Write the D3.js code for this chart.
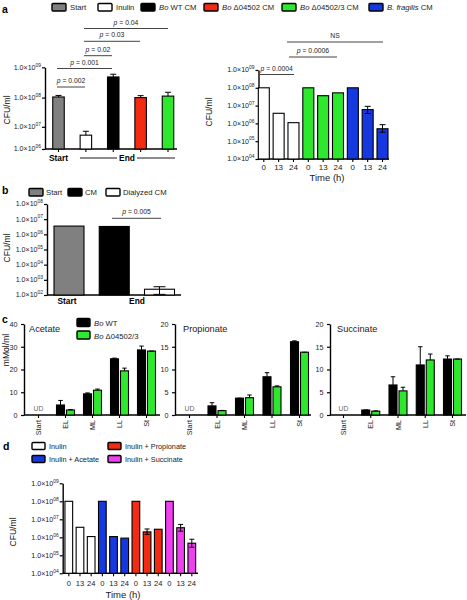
<!DOCTYPE html>
<html><head><meta charset="utf-8">
<script src="https://cdn.jsdelivr.net/npm/d3@7"></script>
<style>body{margin:0;background:#fff}svg{display:block;font-family:"Liberation Sans",Arial,Helvetica,sans-serif}</style>
</head><body><svg id="c" width="467" height="600"></svg>
<script>
// ---------------- DATA ----------------
// Panel a (left): CFU/ml at start / end
const aLeftCats = ["Start", "Inulin", "Bo WT CM", "Bo Δ04502 CM", "Bo Δ04502/3 CM"];
const aLeftValues = [1.05e8, 4.2e6, 4.8e8, 1.0e8, 1.12e8];
const aLeftErrHi = [1.18e8, 6.3e6, 5.9e8, 1.16e8, 1.5e8];
const aLeftTicks = [1e6, 1e7, 1e8, 1e9];
// Panel a (right): time course
const aRightGroups = ["Inulin", "Inulin", "Inulin", "Bo Δ04502/3 CM", "Bo Δ04502/3 CM", "Bo Δ04502/3 CM", "B. fragilis CM", "B. fragilis CM", "B. fragilis CM"];
const aRightTimes = ["0", "13", "24", "0", "13", "24", "0", "13", "24"];
const aRightValues = [1.0e8, 3.7e6, 1.1e6, 1.0e8, 3.6e7, 5.2e7, 1.0e8, 6.0e6, 5.0e5];
const aRightErrHi = [null, null, null, null, null, null, null, 9.1e6, 8.5e5];
const aRightErrLo = [null, null, null, null, null, null, null, 3.6e6, 3.2e5];
const aRightTicks = [1e4, 1e5, 1e6, 1e7, 1e8, 1e9];
// Panel b
const bCats = ["Start", "CM", "Dialyzed CM"];
const bValues = [3.5e6, 3.3e6, 2.4e2];
const bErrHi = [null, null, 3.5e2];
const bErrLo = [null, null, 1.1e2];
const bTicks = [1e2, 1e3, 1e4, 1e5, 1e6, 1e7, 1e8];
// Panel c: SCFA (mMol/ml)
const cStages = ["Start", "EL", "ML", "LL", "St"];
const acetateWT = [null, 4.4, 9.3, 24.7, 28.6];
const acetateWTErr = [null, 6.4, 9.7, 25.0, 30.3];
const acetateMut = [null, 2.2, 10.9, 19.4, 28.1];
const acetateMutErr = [null, 2.4, 11.4, 20.6, 28.1];
const propionateWT = [null, 2.0, 3.7, 8.4, 16.1];
const propionateWTErr = [null, 2.7, 3.7, 9.3, 16.3];
const propionateMut = [null, 0.95, 3.8, 6.2, 13.8];
const propionateMutErr = [null, 1.0, 4.4, 6.4, 13.8];
const succinateWT = [null, 1.1, 6.6, 11.0, 12.3];
const succinateWTErr = [null, 1.1, 8.4, 15.0, 13.0];
const succinateMut = [null, 0.85, 5.3, 12.1, 12.3];
const succinateMutErr = [null, 0.9, 6.1, 13.4, 12.3];
const acetateTicks = [0, 10, 20, 30, 40];
const smallTicks = [0, 5, 10, 15, 20];
// Panel d
const dGroups = ["Inulin", "Inulin", "Inulin", "Inulin + Acetate", "Inulin + Acetate", "Inulin + Acetate", "Inulin + Propionate", "Inulin + Propionate", "Inulin + Propionate", "Inulin + Succinate", "Inulin + Succinate", "Inulin + Succinate"];
const dTimes = ["0", "13", "24", "0", "13", "24", "0", "13", "24", "0", "13", "24"];
const dValues = [1.0e8, 3.6e6, 1.1e6, 1.0e8, 1.1e6, 9.0e5, 1.0e8, 2.0e6, 2.8e6, 1.0e8, 3.4e6, 4.7e5];
const dErrHi = [null, null, null, null, null, null, null, 2.9e6, null, null, 5.2e6, 7.8e5];
const dErrLo = [null, null, null, null, null, null, null, 1.45e6, null, null, 2.2e6, 2.8e5];

// ---------------- STYLE ----------------
const COL = {
  "Start": "#808080", "Inulin": "#ffffff", "Bo WT CM": "#000000", "CM": "#000000",
  "Bo Δ04502 CM": "#f22b12", "Bo Δ04502/3 CM": "#2ee82e", "B. fragilis CM": "#1638e0",
  "Dialyzed CM": "#ffffff", "Inulin + Acetate": "#1638e0", "Inulin + Propionate": "#f22b12",
  "Inulin + Succinate": "#ee3ff0", "Bo WT": "#000000", "Bo Δ04502/3": "#2ee82e"
};
const svg = d3.select("#c");
const TICKF = 7.1;

function panelLetter(t, x, y) {
  svg.append("text").attr("x", x).attr("y", y).attr("font-size", 10.5).attr("font-weight", "bold").text(t);
}
function yTitle(t, x, y) {
  svg.append("text").attr("transform", `translate(${x},${y}) rotate(-90)`).attr("text-anchor", "middle")
    .attr("font-size", 8.6).attr("fill", "#111").text(t);
}
function logAxis(y, x0, ticks) {
  const g = svg.append("g").attr("transform", `translate(${x0},0)`);
  g.call(d3.axisLeft(y).tickValues(ticks).tickSize(3).tickSizeOuter(0).tickFormat(""));
  g.select(".domain").attr("stroke-width", 1.4);
  g.selectAll(".tick line").attr("stroke-width", 1.2);
  ticks.forEach(t => {
    const e = Math.round(Math.log10(t));
    const tx = g.append("text").attr("x", -4).attr("y", y(t) + 2.4).attr("text-anchor", "end")
      .attr("font-size", TICKF).attr("fill", "#222");
    tx.append("tspan").text("1.0×10");
    tx.append("tspan").attr("dy", -3.2).attr("font-size", 4.9).text(String(e).padStart(2, "0"));
  });
}
function linAxis(y, x0, ticks) {
  const g = svg.append("g").attr("transform", `translate(${x0},0)`);
  g.call(d3.axisLeft(y).tickValues(ticks).tickSize(3).tickSizeOuter(0).tickFormat(d3.format("d")));
  g.select(".domain").attr("stroke-width", 1.4);
  g.selectAll(".tick line").attr("stroke-width", 1.2);
  g.selectAll(".tick text").attr("font-size", 7.2).attr("font-family", null).attr("fill", "#222").attr("dx", -0.5);
  return g;
}
function xLine(x0, x1, yb) {
  svg.append("line").attr("x1", x0).attr("x2", x1).attr("y1", yb).attr("y2", yb)
    .attr("stroke", "#000").attr("stroke-width", 1.4);
}
function bars(xs, keys, vals, w, y, yb, colors, dx = 0) {
  keys.forEach((k, i) => {
    const v = vals[i];
    if (v == null) return;
    svg.append("rect").attr("x", xs(k) + dx - w / 2).attr("y", y(v)).attr("width", w)
      .attr("height", Math.max(0, yb - y(v))).attr("fill", colors[i]).attr("stroke", "#000").attr("stroke-width", 1.1);
  });
}
function errs(xs, keys, vals, hi, lo, y, cw, dx = 0) {
  keys.forEach((k, i) => {
    if (hi[i] == null || vals[i] == null) return;
    const cx = xs(k) + dx;
    const top = y(hi[i]);
    const bot = lo && lo[i] != null ? y(lo[i]) : y(vals[i]);
    svg.append("line").attr("x1", cx).attr("x2", cx).attr("y1", top).attr("y2", bot).attr("stroke", "#000").attr("stroke-width", 1);
    svg.append("line").attr("x1", cx - cw / 2).attr("x2", cx + cw / 2).attr("y1", top).attr("y2", top).attr("stroke", "#000").attr("stroke-width", 1);
    if (lo && lo[i] != null) {
      svg.append("line").attr("x1", cx - cw / 2).attr("x2", cx + cw / 2).attr("y1", bot).attr("y2", bot).attr("stroke", "#000").attr("stroke-width", 1);
    }
  });
}
function xTicks(xs, keys, yb) {
  keys.forEach(k => {
    svg.append("line").attr("x1", xs(k)).attr("x2", xs(k)).attr("y1", yb).attr("y2", yb + 3)
      .attr("stroke", "#000").attr("stroke-width", 1.1);
  });
}
function sig(x0, x1, yl, label) {
  svg.append("line").attr("x1", x0).attr("x2", x1).attr("y1", yl).attr("y2", yl).attr("stroke", "#444").attr("stroke-width", 1);
  const t = svg.append("text").attr("x", (x0 + x1) / 2).attr("y", yl - 4).attr("text-anchor", "middle")
    .attr("font-size", 6.8).attr("fill", "#222");
  if (label === "NS") { t.text("NS"); return; }
  t.append("tspan").attr("font-style", "italic").text("p");
  t.append("tspan").text(" = " + label);
}
function swatch(x, y, col, w = 14, h = 7.5) {
  svg.append("rect").attr("x", x).attr("y", y).attr("width", w).attr("height", h).attr("rx", 1)
    .attr("fill", col).attr("stroke", "#000").attr("stroke-width", 1.4);
}
function legendText(x, y, parts, fs = 7.7) {
  const t = svg.append("text").attr("x", x).attr("y", y).attr("font-size", fs).attr("fill", "#222");
  parts.forEach(p => t.append("tspan").attr("font-style", p[1] ? "italic" : null).text(p[0]));
}

// ---------------- PANEL a ----------------
panelLetter("a", 2, 13);
const legA = [
  [52, "Start", [["Start"]]], [98, "Inulin", [["Inulin"]]], [141, "Bo WT CM", [["Bo", 1], [" WT CM"]]],
  [204, "Bo Δ04502 CM", [["Bo", 1], [" Δ04502 CM"]]], [282, "Bo Δ04502/3 CM", [["Bo", 1], [" Δ04502/3 CM"]]],
  [369, "B. fragilis CM", [["B. fragilis", 1], [" CM"]]]
];
legA.forEach(d => { swatch(d[0], 3.5, COL[d[1]]); legendText(d[0] + 18, 10, d[2]); });

// left
const yAL = d3.scaleLog().domain([1e6, 1e7, 1e8, 1e9]).range([149, 126.8, 97.6, 67.3]);
const xAL = d3.scalePoint().domain(aLeftCats).range([58.5, 168]);
logAxis(yAL, 45, aLeftTicks);
xLine(45, 177, 149);
bars(xAL, aLeftCats, aLeftValues, 11.5, yAL, 149, aLeftCats.map(c => COL[c]));
errs(xAL, aLeftCats, aLeftValues, aLeftErrHi, null, yAL, 6);
xTicks(xAL, aLeftCats, 149);
yTitle("CFU/ml", 10, 110);
svg.append("text").attr("x", xAL("Start")).attr("y", 161).attr("text-anchor", "middle").attr("font-size", 8.4).attr("font-weight", "bold").text("Start");
svg.append("text").attr("x", 127).attr("y", 161).attr("text-anchor", "middle").attr("font-size", 8.4).attr("font-weight", "bold").text("End");
svg.append("line").attr("x1", 80).attr("x2", 117).attr("y1", 158).attr("y2", 158).attr("stroke", "#000").attr("stroke-width", 0.9);
svg.append("line").attr("x1", 137).attr("x2", 175).attr("y1", 158).attr("y2", 158).attr("stroke", "#000").attr("stroke-width", 0.9);
sig(84, 168, 28.5, "0.04");
sig(84, 140, 41.3, "0.03");
sig(84, 112, 55.7, "0.02");
sig(57, 112, 68.5, "0.001");
sig(57, 85, 87, "0.002");

// right
const idxR = aRightValues.map((d, i) => i);
const yAR = d3.scaleLog().domain([1e4, 1e9]).range([159, 70]);
const xAR = d3.scalePoint().domain(idxR).range([263.8, 382.5]);
logAxis(yAR, 258.5, aRightTicks);
xLine(258.5, 389, 159);
bars(xAR, idxR, aRightValues, 11, yAR, 159, aRightGroups.map(c => COL[c]));
errs(xAR, idxR, aRightValues, aRightErrHi, aRightErrLo, yAR, 6);
xTicks(xAR, idxR, 159);
idxR.forEach(i => svg.append("text").attr("x", xAR(i)).attr("y", 170).attr("text-anchor", "middle").attr("font-size", 8).attr("fill", "#222").text(aRightTimes[i]));
svg.append("text").attr("x", 327).attr("y", 181).attr("text-anchor", "middle").attr("font-size", 9.5).attr("fill", "#222").text("Time (h)");
yTitle("CFU/ml", 212, 112);
sig(259.5, 294, 74.5, "0.0004");
sig(289, 337, 57, "0.0006");
sig(287, 383, 42, "NS");

// ---------------- PANEL b ----------------
panelLetter("b", 2, 194);
const legB = [[29, "Start"], [68, "CM"], [106, "Dialyzed CM"]];
legB.forEach(d => { swatch(d[0], 188.5, COL[d[1]]); legendText(d[0] + 17, 195, [[d[1]]]); });
const yB = d3.scaleLog().domain([1e2, 1e8]).range([295, 204]);
const xB = d3.scalePoint().domain(bCats).range([69, 159.5]);
logAxis(yB, 47, bTicks);
xLine(47, 181, 295);
bars(xB, bCats, bValues, 30, yB, 295, bCats.map(c => COL[c]));
errs(xB, bCats, bValues, bErrHi, bErrLo, yB, 12);
svg.append("text").attr("x", 67).attr("y", 304).attr("text-anchor", "middle").attr("font-size", 8.4).attr("font-weight", "bold").text("Start");
svg.append("text").attr("x", 137).attr("y", 304).attr("text-anchor", "middle").attr("font-size", 8.4).attr("font-weight", "bold").text("End");
yTitle("CFU/ml", 10, 248);
sig(112, 161, 218.3, "0.005");

// ---------------- PANEL c ----------------
panelLetter("c", 2, 323);
swatch(77, 318.5, COL["Bo WT"], 13, 8);
legendText(94, 326, [["Bo", 1], [" WT"]]);
swatch(77, 331, COL["Bo Δ04502/3"], 13, 8);
legendText(94, 338.5, [["Bo", 1], [" Δ04502/3"]]);
yTitle("mMol/ml", 8.5, 350);

function scfa(name, x0, range, ticks, ymax, wt, wtE, mu, muE, nameX) {
  const y = d3.scaleLinear().domain([0, ymax]).range([415, 324]);
  const x = d3.scalePoint().domain(cStages).range(range);
  linAxis(y, x0, ticks);
  xLine(x0, x0 + 136, 415);
  bars(x, cStages, wt, 8, y, 415, cStages.map(() => COL["Bo WT"]), -5);
  bars(x, cStages, mu, 8, y, 415, cStages.map(() => COL["Bo Δ04502/3"]), 5);
  errs(x, cStages, wt, wtE, null, y, 4.5, -5);
  errs(x, cStages, mu, muE, null, y, 4.5, 5);
  xTicks(x, cStages, 415);
  cStages.forEach(s => {
    svg.append("text").attr("transform", `translate(${x(s) + 2.5},${420}) rotate(-90)`).attr("text-anchor", "end")
      .attr("font-size", 7.2).attr("fill", "#222").text(s);
  });
  svg.append("text").attr("x", x("Start")).attr("y", 411).attr("text-anchor", "middle").attr("font-size", 6.8).attr("fill", "#666").text("UD");
  svg.append("text").attr("x", nameX).attr("y", 332).attr("font-size", 9.2).attr("fill", "#222").text(name);
}
scfa("Acetate", 24, [38.5, 146.5], acetateTicks, 40, acetateWT, acetateWTErr, acetateMut, acetateMutErr, 29);
scfa("Propionate", 175, [189.5, 299.5], smallTicks, 20, propionateWT, propionateWTErr, propionateMut, propionateMutErr, 183);
scfa("Succinate", 330, [343.5, 452.5], smallTicks, 20, succinateWT, succinateWTErr, succinateMut, succinateMutErr, 337);

// ---------------- PANEL d ----------------
panelLetter("d", 3, 450);
const legD = [[32, 442.5, "Inulin"], [32, 455.5, "Inulin + Acetate"], [108, 442.5, "Inulin + Propionate"], [108, 455.5, "Inulin + Succinate"]];
legD.forEach(d => { swatch(d[0], d[1], COL[d[2]], 13, 7); legendText(d[0] + 17, d[1] + 6.5, [[d[2]]], 7.3); });
const idxD = dValues.map((d, i) => i);
const yD = d3.scaleLog().domain([1e4, 1e9]).range([573.3, 483.3]);
const xD = d3.scalePoint().domain(idxD).range([68.8, 191.8]);
logAxis(yD, 62.7, aRightTicks);
xLine(62.7, 198, 573.3);
bars(xD, idxD, dValues, 7.7, yD, 573.3, dGroups.map(c => COL[c]));
errs(xD, idxD, dValues, dErrHi, dErrLo, yD, 5);
xTicks(xD, idxD, 573.3);
idxD.forEach(i => svg.append("text").attr("x", xD(i)).attr("y", 586).attr("text-anchor", "middle").attr("font-size", 7.6).attr("fill", "#222").text(dTimes[i]));
svg.append("text").attr("x", 123).attr("y", 598).attr("text-anchor", "middle").attr("font-size", 9.5).attr("fill", "#222").text("Time (h)");
yTitle("CFU/ml", 16, 532);
</script></body></html>
